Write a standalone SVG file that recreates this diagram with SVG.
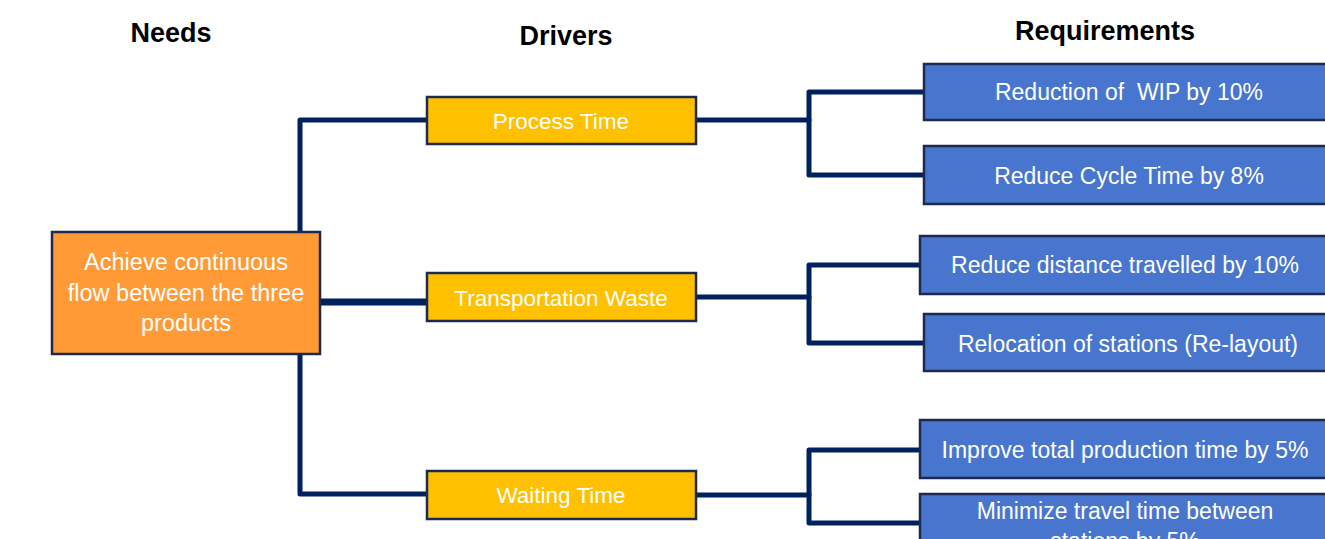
<svg xmlns="http://www.w3.org/2000/svg" width="1325" height="539" viewBox="0 0 1325 539">
<style>
.hdr{font-family:"Liberation Sans",Arial,sans-serif;font-weight:bold;font-size:27px;fill:#000;text-anchor:middle}
.txt{font-family:"Liberation Sans",Arial,sans-serif;font-size:23px;fill:#fff;text-anchor:middle}
.need{fill:#FF9A36;stroke:#1C2A4F;stroke-width:2.5}
.drv{fill:#FFC000;stroke:#1C2A4F;stroke-width:2.5}
.req{fill:#4876CE;stroke:#1C2A4F;stroke-width:2.5}
.con{fill:none;stroke:#002060;stroke-width:5;stroke-linecap:round;stroke-linejoin:round}
</style>
<rect width="1325" height="539" fill="#fff"/>
<g id="headers">
<text class="hdr" x="171" y="42">Needs</text>
<text class="hdr" x="566" y="45">Drivers</text>
<text class="hdr" x="1105" y="40">Requirements</text>
</g>
<g id="connectors">
<path class="con" d="M300 232 V120 H427"/>
<path class="con" d="M300 354 V494 H427"/>
<path class="con" d="M320 302 H427" style="stroke-width:7;stroke-linecap:butt"/>
<path class="con" d="M696 120 H809"/>
<path class="con" d="M924 92 H809 V175 H924"/>
<path class="con" d="M696 297 H809"/>
<path class="con" d="M920 265 H809 V343 H924"/>
<path class="con" d="M696 495 H809"/>
<path class="con" d="M920 450 H809 V523 H920"/>
</g>
<g id="need">
<rect class="need" x="52" y="232" width="268" height="122"/>
<text class="txt" x="186" y="270" style="font-size:23.5px">Achieve continuous</text>
<text class="txt" x="186" y="301" style="font-size:23.5px">flow between the three</text>
<text class="txt" x="186" y="331" style="font-size:23.5px">products</text>
</g>
<g id="driver-process">
<rect class="drv" x="427" y="97" width="269" height="47"/>
<text class="txt" x="561" y="129" style="font-size:22.5px">Process Time</text>
</g>
<g id="driver-transport">
<rect class="drv" x="427" y="273" width="269" height="48"/>
<text class="txt" x="561" y="306" style="font-size:22.5px">Transportation Waste</text>
</g>
<g id="driver-waiting">
<rect class="drv" x="427" y="471" width="269" height="48"/>
<text class="txt" x="561" y="503" style="font-size:22.5px">Waiting Time</text>
</g>
<g id="req1">
<rect class="req" x="924" y="64" width="420" height="56"/>
<text class="txt" x="1129" y="100">Reduction of &#160;WIP by 10%</text>
</g>
<g id="req2">
<rect class="req" x="924" y="146" width="420" height="58"/>
<text class="txt" x="1129" y="184">Reduce Cycle Time by 8%</text>
</g>
<g id="req3">
<rect class="req" x="920" y="236" width="420" height="58"/>
<text class="txt" x="1125" y="273">Reduce distance travelled by 10%</text>
</g>
<g id="req4">
<rect class="req" x="924" y="314" width="420" height="57"/>
<text class="txt" x="1128" y="352">Relocation of stations (Re-layout)</text>
</g>
<g id="req5">
<rect class="req" x="920" y="420" width="420" height="58"/>
<text class="txt" x="1125" y="458">Improve total production time by 5%</text>
</g>
<g id="req6">
<rect class="req" x="920" y="494" width="420" height="80"/>
<text class="txt" x="1125" y="519">Minimize travel time between</text>
<text class="txt" x="1125" y="549">stations by 5%</text>
</g>
</svg>
